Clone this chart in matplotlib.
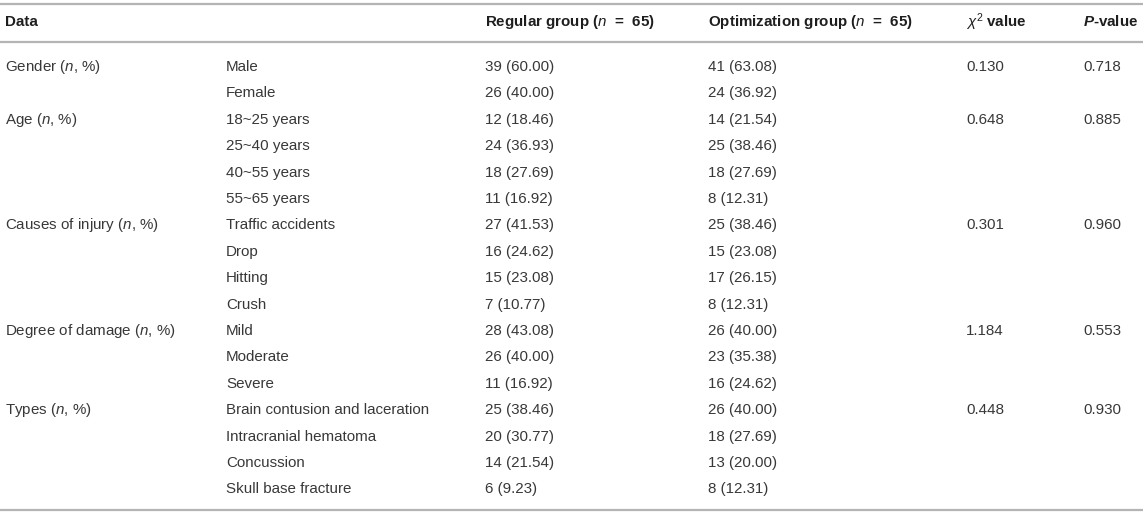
import matplotlib.pyplot as plt

plt.rcParams['font.family'] = ['Liberation Sans', 'DejaVu Sans']
plt.rcParams['mathtext.fontset'] = 'custom'
plt.rcParams['mathtext.rm'] = 'Liberation Sans'
plt.rcParams['mathtext.it'] = 'Liberation Sans:italic'
plt.rcParams['mathtext.bf'] = 'Liberation Sans:bold'
plt.rcParams['mathtext.bfit'] = 'Liberation Sans:bold:italic'

# Table content
headers = ['Data', '', 'Regular group ($\\mathit{n}$  =  65)', 'Optimization group ($\\mathit{n}$  =  65)',
           '$\\chi^{2}$ value', '$\\mathbfit{P}$-value']
groups = ['Gender ($n$, %)', 'Age ($n$, %)', 'Causes of injury ($n$, %)',
          'Degree of damage ($n$, %)', 'Types ($n$, %)']
items = [
    ['Male', 'Female'],
    ['18~25 years', '25~40 years', '40~55 years', '55~65 years'],
    ['Traffic accidents', 'Drop', 'Hitting', 'Crush'],
    ['Mild', 'Moderate', 'Severe'],
    ['Brain contusion and laceration', 'Intracranial hematoma', 'Concussion', 'Skull base fracture'],
]
regular = [
    ['39 (60.00)', '26 (40.00)'],
    ['12 (18.46)', '24 (36.93)', '18 (27.69)', '11 (16.92)'],
    ['27 (41.53)', '16 (24.62)', '15 (23.08)', '7 (10.77)'],
    ['28 (43.08)', '26 (40.00)', '11 (16.92)'],
    ['25 (38.46)', '20 (30.77)', '14 (21.54)', '6 (9.23)'],
]
optimization = [
    ['41 (63.08)', '24 (36.92)'],
    ['14 (21.54)', '25 (38.46)', '18 (27.69)', '8 (12.31)'],
    ['25 (38.46)', '15 (23.08)', '17 (26.15)', '8 (12.31)'],
    ['26 (40.00)', '23 (35.38)', '16 (24.62)'],
    ['26 (40.00)', '18 (27.69)', '13 (20.00)', '8 (12.31)'],
]
chi2 = ['0.130', '0.648', '0.301', '1.184', '0.448']
pvalues = ['0.718', '0.885', '0.960', '0.553', '0.930']

W, H = 1143, 513
fig = plt.figure(figsize=(W / 100, H / 100), dpi=100)
ax = fig.add_axes([0, 0, 1, 1])
ax.set_xlim(0, W)
ax.set_ylim(H, 0)
ax.axis('off')

col_x = [5, 226, 485, 708, 966, 1083]
text_color = '#383838'
line_color = '#b4b4b4'
fs = 10.9

# rules
ax.plot([0, W], [4, 4], color=line_color, lw=1.6)
ax.plot([0, W], [42, 42], color=line_color, lw=1.6)
ax.plot([0, W], [510, 510], color=line_color, lw=1.6)

for x, h in zip(col_x, headers):
    ax.text(x, 22, h, fontsize=fs, fontweight='bold', color='#1e1e1e', va='center', ha='left')

y0, dy = 67, 26.4
row = 0
for g in range(len(groups)):
    y = y0 + row * dy
    ax.text(col_x[0], y, groups[g], fontsize=fs, color=text_color, va='center')
    ax.text(col_x[4], y, chi2[g], fontsize=fs, color=text_color, va='center')
    ax.text(col_x[5], y, pvalues[g], fontsize=fs, color=text_color, va='center')
    for i in range(len(items[g])):
        y = y0 + row * dy
        ax.text(col_x[1], y, items[g][i], fontsize=fs, color=text_color, va='center')
        ax.text(col_x[2], y, regular[g][i], fontsize=fs, color=text_color, va='center')
        ax.text(col_x[3], y, optimization[g][i], fontsize=fs, color=text_color, va='center')
        row += 1

plt.savefig('out.png', dpi=100)
